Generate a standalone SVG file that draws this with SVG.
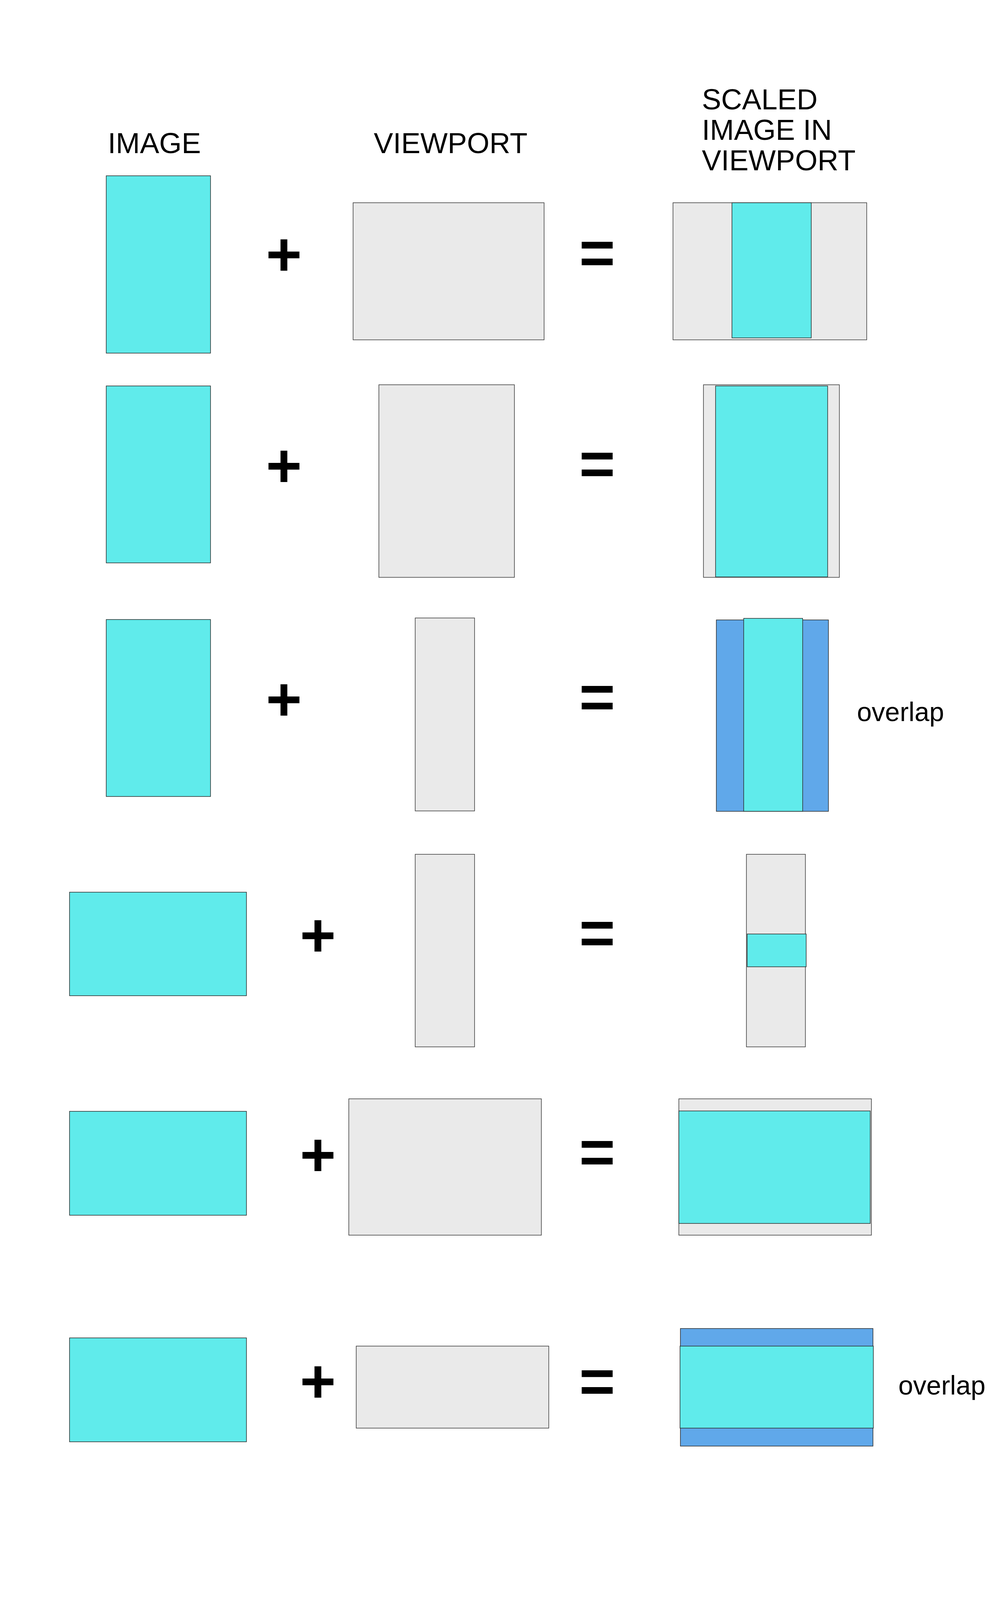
<svg xmlns="http://www.w3.org/2000/svg" width="2550" height="4200" viewBox="0 0 2550 4200">
<style>
.img{fill:#60EBEB;stroke:#2b2b2b;stroke-width:1.5}
.vp{fill:#EAEAEA;stroke:#3a3a3a;stroke-width:1.5}
.ov{fill:#60A8EA;stroke:#2b2b2b;stroke-width:1.5}
.hdr{font-family:"Liberation Sans",Arial,sans-serif;font-size:74px;fill:#000}
.lbl{font-family:"Liberation Sans",Arial,sans-serif;font-size:68px;fill:#000}
.op{font-family:"Liberation Sans",Arial,sans-serif;font-size:158px;font-weight:bold;fill:#000;text-anchor:middle}
</style>
<rect width="2550" height="4200" fill="#fff"/>
<g id="headers">
<text class="hdr" x="276" y="392">IMAGE</text>
<text class="hdr" x="957" y="392">VIEWPORT</text>
<text class="hdr" x="1797" y="280">SCALED</text>
<text class="hdr" x="1797" y="358">IMAGE IN</text>
<text class="hdr" x="1797" y="436">VIEWPORT</text>
</g>
<g id="row1">
<g id="r1-image"><rect class="img" x="272" y="450" width="267" height="454"/></g>
<g id="r1-plus"><text class="op" x="727" y="705">+</text></g>
<g id="r1-viewport"><rect class="vp" x="904" y="519" width="489" height="351"/></g>
<g id="r1-equals"><text class="op" x="1529" y="701">=</text></g>
<g id="r1-result"><rect class="vp" x="1723" y="519" width="496" height="351"/><rect class="img" x="1874" y="519" width="203" height="346"/></g>
</g>
<g id="row2">
<g id="r2-image"><rect class="img" x="272" y="988" width="267" height="453"/></g>
<g id="r2-plus"><text class="op" x="727" y="1246">+</text></g>
<g id="r2-viewport"><rect class="vp" x="970" y="985" width="347" height="493"/></g>
<g id="r2-equals"><text class="op" x="1529" y="1241">=</text></g>
<g id="r2-result"><rect class="vp" x="1801" y="985" width="348" height="493"/><rect class="img" x="1832" y="988" width="287" height="489"/></g>
</g>
<g id="row3">
<g id="r3-image"><rect class="img" x="272" y="1586" width="267" height="453"/></g>
<g id="r3-plus"><text class="op" x="727" y="1844">+</text></g>
<g id="r3-viewport"><rect class="vp" x="1063" y="1582" width="152" height="494"/></g>
<g id="r3-equals"><text class="op" x="1529" y="1838">=</text></g>
<g id="r3-result"><rect class="ov" x="1834" y="1587" width="287" height="490"/><rect class="img" x="1904" y="1583" width="151" height="494"/></g>
<g id="r3-label"><text class="lbl" x="2194" y="1846">overlap</text></g>
</g>
<g id="row4">
<g id="r4-image"><rect class="img" x="178" y="2284" width="453" height="265"/></g>
<g id="r4-plus"><text class="op" x="814" y="2448">+</text></g>
<g id="r4-viewport"><rect class="vp" x="1063" y="2187" width="152" height="493"/></g>
<g id="r4-equals"><text class="op" x="1529" y="2442">=</text></g>
<g id="r4-result"><rect class="vp" x="1911" y="2187" width="151" height="493"/><rect class="img" x="1913" y="2391" width="151" height="84"/></g>
</g>
<g id="row5">
<g id="r5-image"><rect class="img" x="178" y="2845" width="453" height="266"/></g>
<g id="r5-plus"><text class="op" x="814" y="3010">+</text></g>
<g id="r5-viewport"><rect class="vp" x="893" y="2813" width="493" height="349"/></g>
<g id="r5-equals"><text class="op" x="1529" y="3003">=</text></g>
<g id="r5-result"><rect class="vp" x="1738" y="2813" width="493" height="349"/><rect class="img" x="1738" y="2844" width="490" height="288"/></g>
</g>
<g id="row6">
<g id="r6-image"><rect class="img" x="178" y="3425" width="453" height="266"/></g>
<g id="r6-plus"><text class="op" x="814" y="3590">+</text></g>
<g id="r6-viewport"><rect class="vp" x="912" y="3446" width="493" height="210"/></g>
<g id="r6-equals"><text class="op" x="1529" y="3590">=</text></g>
<g id="r6-result"><rect class="ov" x="1742" y="3401" width="493" height="301"/><rect class="img" x="1741" y="3446" width="495" height="210"/></g>
<g id="r6-label"><text class="lbl" x="2300" y="3570">overlap</text></g>
</g>
</svg>
